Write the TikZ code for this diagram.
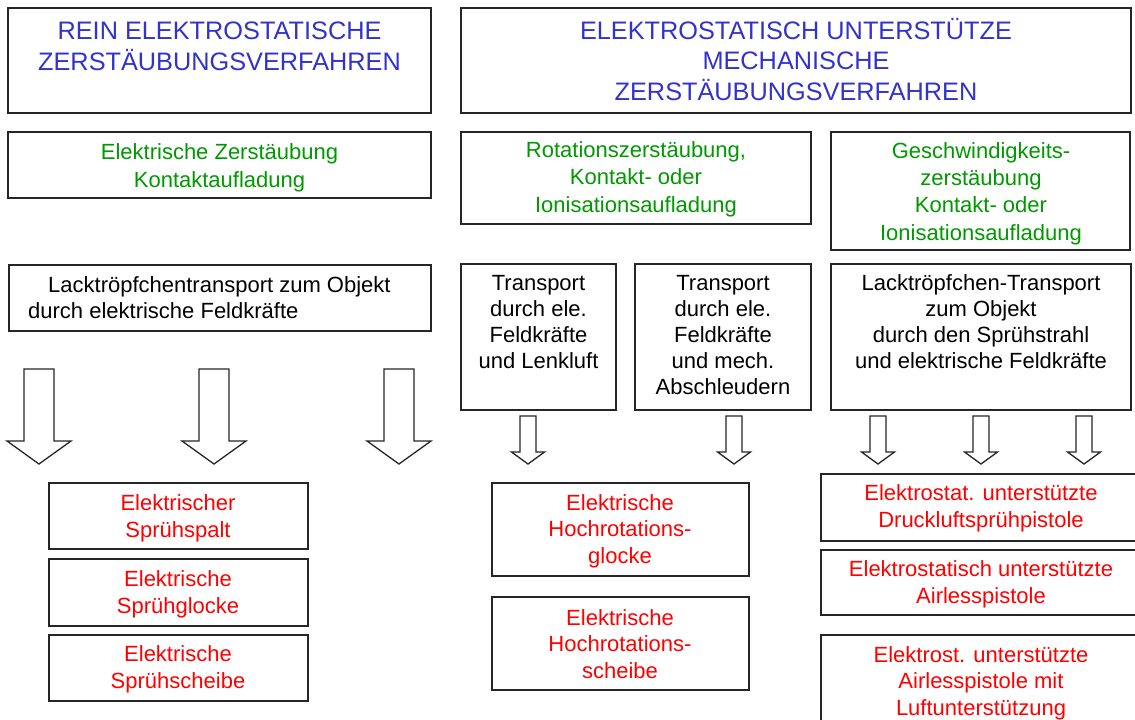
\documentclass[tikz,border=0pt]{standalone}
\usepackage{fontspec}
\setmainfont{Liberation Sans}
\definecolor{headblue}{RGB}{51,51,204}
\definecolor{grn}{RGB}{0,153,0}
\definecolor{rd}{RGB}{255,0,0}
\begin{document}
\begin{tikzpicture}[x=1pt,y=-1pt,
  box/.style={draw=black!85,line width=1.4pt,inner sep=0pt,outer sep=0pt,anchor=north west},
  headtxt/.style={font=\fontsize{25.3}{30.5}\selectfont,text=headblue,align=center,inner sep=0pt,anchor=base},
  grtxt/.style={font=\fontsize{22}{27.3}\selectfont,text=grn,align=center,inner sep=0pt,anchor=base},
  bltxt/.style={font=\fontsize{22}{26}\selectfont,text=black,align=center,inner sep=0pt,anchor=base},
  rdtxt/.style={font=\fontsize{22}{26.5}\selectfont,text=rd,align=center,inner sep=0pt,anchor=base},
  barrow/.style={draw=black!85,line width=1.3pt,fill=white,line join=miter},
  pics/bigdown/.style={code={\draw[barrow] (-15,0) -- (15,0) -- (15,72) -- (32,72) -- (0,95) -- (-32,72) -- (-15,72) -- cycle;}},
  pics/smalldown/.style={code={\draw[barrow] (-8,0) -- (8,0) -- (8,36) -- (16.5,36) -- (0,48) -- (-16.5,36) -- (-8,36) -- cycle;}}
]
\useasboundingbox (0,0) rectangle (1135,720);
\clip (0,0) rectangle (1135,720);
\fill[white] (0,0) rectangle (1135,720);

% header boxes
\node[box,minimum width=423pt,minimum height=105pt] (hL) at (8,8) {};
\node[box,minimum width=670pt,minimum height=105pt] (hR) at (461,8) {};
\node[headtxt] (hLt) at (219.5,70) {REIN ELEKTROSTATISCHE\\ZERSTÄUBUNGSVERFAHREN};
\node[headtxt] (hRt) at (796,100) {ELEKTROSTATISCH UNTERSTÜTZE\\MECHANISCHE\\ZERSTÄUBUNGSVERFAHREN};

% green boxes
\node[box,minimum width=423pt,minimum height=66pt] (gL) at (8,132) {};
\node[box,minimum width=350pt,minimum height=92pt] (gM) at (461,132) {};
\node[box,minimum width=299pt,minimum height=118pt] (gR) at (831,132) {};
\node[grtxt] (gLt) at (219.5,187) {Elektrische Zerstäubung\\Kontaktaufladung};
\node[grtxt] (gMt) at (636,212) {Rotationszerstäubung,\\Kontakt- oder\\Ionisationsaufladung};
\node[grtxt] (gRt) at (981,240) {Geschwindigkeits-\\zerstäubung\\Kontakt- oder\\Ionisationsaufladung};

% transport boxes
\node[box,minimum width=422pt,minimum height=66pt] (tL) at (9,265) {};
\node[box,minimum width=155pt,minimum height=146pt] (tM1) at (461,264) {};
\node[box,minimum width=176pt,minimum height=146pt] (tM2) at (635,264) {};
\node[box,minimum width=300pt,minimum height=146pt] (tR) at (831,264) {};
\node[bltxt,align=left,anchor=base west] (tLt) at (28,318) {\hspace*{20pt}Lacktröpfchentransport zum Objekt\\durch elektrische Feldkräfte};
\node[bltxt] (tM1t) at (538.5,368) {Transport\\durch ele.\\Feldkräfte\\und Lenkluft};
\node[bltxt] (tM2t) at (723,394) {Transport\\durch ele.\\Feldkräfte\\und mech.\\Abschleudern};
\node[bltxt] (tRt) at (981,368) {Lacktröpfchen-Transport\\zum Objekt\\durch den Sprühstrahl\\und elektrische Feldkräfte};

% block arrows
\pic at (39,369) {bigdown};
\pic at (214,369) {bigdown};
\pic at (399,369) {bigdown};
\foreach \ax in {528,734,878,981,1084} {\pic at (\ax,416) {smalldown};}

% red boxes
\node[box,minimum width=259pt,minimum height=66pt] (rL1) at (49,483) {};
\node[box,minimum width=259pt,minimum height=67pt] (rL2) at (49,559) {};
\node[box,minimum width=259pt,minimum height=66pt] (rL3) at (49,635) {};
\node[box,minimum width=257pt,minimum height=93pt] (rM1) at (492,483) {};
\node[box,minimum width=257pt,minimum height=93pt] (rM2) at (492,597) {};
\node[box,minimum width=330pt,minimum height=67pt] (rR1) at (821,474) {};
\node[box,minimum width=330pt,minimum height=65pt] (rR2) at (821,550) {};
\node[box,minimum width=330pt,minimum height=100pt] (rR3) at (821,635) {};
\node[rdtxt] (rL1t) at (178,537) {Elektrischer\\Sprühspalt};
\node[rdtxt] (rL2t) at (178,613) {Elektrische\\Sprühglocke};
\node[rdtxt] (rL3t) at (178,688) {Elektrische\\Sprühscheibe};
\node[rdtxt] (rM1t) at (620,563) {Elektrische\\Hochrotations-\\glocke};
\node[rdtxt] (rM2t) at (620,678) {Elektrische\\Hochrotations-\\scheibe};
\node[rdtxt] (rR1t) at (981,527) {Elektrostat. unterstützte\\Druckluftsprühpistole};
\node[rdtxt] (rR2t) at (981,603) {Elektrostatisch unterstützte\\Airlesspistole};
\node[rdtxt] (rR3t) at (981,715) {Elektrost. unterstützte\\Airlesspistole mit\\Luftunterstützung};
\end{tikzpicture}
\end{document}
